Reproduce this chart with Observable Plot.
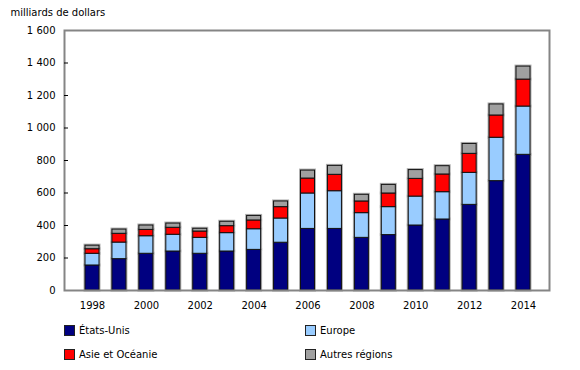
<!DOCTYPE html>
<html>
<head>
<meta charset="utf-8">
<script src="https://cdn.jsdelivr.net/npm/d3@7"></script>
<script src="https://cdn.jsdelivr.net/npm/@observablehq/plot@0.6"></script>
<style>
  body { margin: 0; background: #fff; font-family: Verdana, "DejaVu Sans", sans-serif; }
  #wrap { width: 580px; }
  #legend { position: relative; width: 580px; height: 52px; font-size: 10px; color: #000; }
  .sw { position: absolute; width: 11px; height: 11px; box-sizing: border-box; border: 1px solid #222; }
  .lb { position: absolute; line-height: 11px; white-space: nowrap; }
</style>
</head>
<body>
<div id="wrap"></div>
<script>
const years = [1998, 1999, 2000, 2001, 2002, 2003, 2004, 2005, 2006, 2007, 2008, 2009, 2010, 2011, 2012, 2013, 2014];
const etatsUnis = [154, 193, 226, 240, 226, 240, 250, 294, 379, 379, 324, 341, 400, 437, 527, 673, 835];
const europe    = [72, 102, 108, 103, 98, 113, 127, 149, 218, 232, 152, 172, 178, 168, 197, 267, 297];
const asie      = [28, 54, 39, 43, 39, 43, 54, 70, 92, 101, 72, 84, 109, 109, 117, 137, 166];
const autres    = [22, 26, 27, 26, 17, 27, 28, 35, 49, 55, 41, 53, 54, 51, 61, 68, 80];
const series = ["États-Unis", "Europe", "Asie et Océanie", "Autres régions"];
const colors = ["#000080", "#99CCFF", "#FF0000", "#A0A0A0"];
const yTicks = [0, 200, 400, 600, 800, 1000, 1200, 1400, 1600];
const xTicks = [1998, 2000, 2002, 2004, 2006, 2008, 2010, 2012, 2014];
const yTitle = "milliards de dollars";

const valuesBySeries = [etatsUnis, europe, asie, autres];
const data = years.flatMap((yr, i) => series.map((s, j) => ({year: yr, region: s, value: valuesBySeries[j][i]})));

const fmt = d3.formatLocale({decimal: ",", thousands: "\u00a0", grouping: [3], currency: ["", ""]}).format(",d");

const W = 580, H = 318, mL = 64, mR = 31, mT = 30, mB = 28;
const innerW = W - mL - mR;

const chart = Plot.plot({
  width: W, height: H,
  marginLeft: mL, marginRight: mR, marginTop: mT, marginBottom: mB,
  style: {fontFamily: 'Verdana, "DejaVu Sans", sans-serif', fontSize: "10px", color: "#000", background: "#fff"},
  x: {type: "band", domain: years, paddingInner: 0.48, paddingOuter: 0, insetLeft: 21, insetRight: 19, round: false},
  y: {domain: [0, 1600]},
  color: {domain: series, range: colors},
  marks: [
    Plot.barY(data, {x: "year", y: "value", fill: "region", order: series, stroke: "#b0b0b0", strokeWidth: 3}),
    Plot.barY(data, {x: "year", y: "value", fill: "region", order: series, stroke: "#111", strokeWidth: 1}),
    Plot.frame({stroke: "#858585", strokeWidth: 2}),
    Plot.tickY(yTicks.slice(1, -1), {y: d => d, stroke: "#000", strokeWidth: 1, insetLeft: 0, insetRight: innerW - 4}),
    Plot.axisY({ticks: yTicks, tickSize: 0, tickPadding: 9, tickFormat: fmt, label: null}),
    Plot.axisX({ticks: xTicks, tickSize: 0, tickPadding: 11, tickFormat: d => `${d}`, label: null}),
    Plot.text([yTitle], {frameAnchor: "top-left", dx: -54, dy: -22, textAnchor: "start", fill: "#000"})
  ]
});
document.getElementById("wrap").appendChild(chart);

// Legend below the SVG
const legend = document.createElement("div");
legend.id = "legend";
const pos = [[64, 7], [305, 7], [64, 31], [305, 31]];
series.forEach((s, i) => {
  const [lx, ly] = pos[i];
  const sw = document.createElement("div");
  sw.className = "sw";
  sw.style.left = lx + "px"; sw.style.top = ly + "px"; sw.style.background = colors[i];
  const lb = document.createElement("div");
  lb.className = "lb";
  lb.style.left = (lx + 15) + "px"; lb.style.top = ly + "px";
  lb.textContent = s;
  legend.appendChild(sw); legend.appendChild(lb);
});
document.getElementById("wrap").appendChild(legend);
</script>
</body>
</html>
